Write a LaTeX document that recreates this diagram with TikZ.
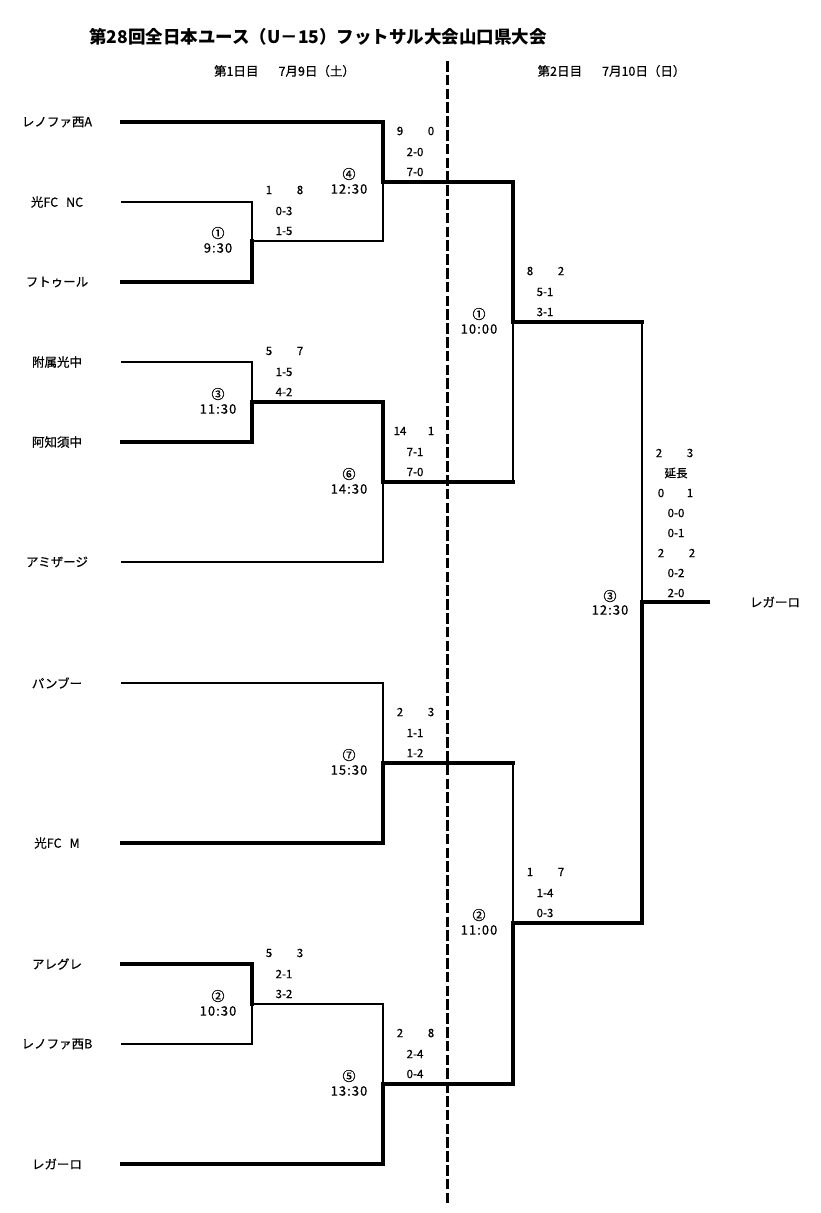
\documentclass[tikz,border=0pt]{standalone}
\usepackage{fontspec}
\setmainfont{Noto Sans CJK JP}[FakeBold=0.5]
\newfontfamily\timefont{Noto Sans CJK JP}[LetterSpace=8,FakeBold=0.4]
\newfontfamily\titlefont{Noto Sans CJK JP}
\begin{document}
\begin{tikzpicture}[x=1pt,y=-1pt,
  every node/.style={inner sep=0pt,outer sep=0pt},
  team/.style={font=\fontsize{12.5}{12.5}\selectfont},
  num/.style={font=\fontsize{11.5}{11.5}\selectfont},
  circ/.style={font=\fontsize{13}{13}\selectfont},
  tim/.style={font=\timefont\fontsize{13}{13}\selectfont},
  ttl/.style={font=\titlefont\bfseries\fontsize{17.5}{17.5}\selectfont},
  dayhd/.style={font=\fontsize{12.5}{12.5}\selectfont},
  thinln/.style={line width=1.5pt,line join=miter,line cap=rect},
  medln/.style={line width=2.6pt,line join=miter,line cap=rect},
  thickln/.style={line width=4.2pt,line join=miter,line cap=rect},
  dayline/.style={line width=3pt,dash pattern=on 10.5pt off 3.3pt}]
\useasboundingbox (0,0) rectangle (820,1213);
\fill[white] (0,0) rectangle (820,1213);

\newcommand\mres[9]{%
  \node[num] (#1a) at ({#2+17},{#3-51}) {#4};
  \node[num] (#1b) at ({#2+48},{#3-51}) {#5};
  \node[num] (#1c) at ({#2+32},{#3-30}) {#6};
  \node[num] (#1d) at ({#2+32},{#3-10}) {#7};
  \node[circ] (#1e) at ({#2-34},{#3-8}) {#8};
  \node[tim] (#1f) at ({#2-34},{#3+7}) {#9};}

% title and headers
\node[ttl] (title) at (318,37) {第28回全日本ユース（U－15）フットサル大会山口県大会};
\node[dayhd] (day1) at (284.5,71) {第1日目\hspace{20pt}7月9日（土）};
\node[dayhd] (day2) at (611.5,71) {第2日目\hspace{20pt}7月10日（日）};

% teams
\node[team] (t1) at (57,122) {レノファ西A};
\node[team] (t2) at (57,202) {光FC\hspace{8pt}NC};
\node[team] (t3) at (57,282) {フトゥール};
\node[team] (t4) at (57,362) {附属光中};
\node[team] (t5) at (57,442) {阿知須中};
\node[team] (t6) at (57,562) {アミザージ};
\node[team] (t7) at (57,683) {パンブー};
\node[team] (t8) at (57,843) {光FC\hspace{8pt}M};
\node[team] (t9) at (57,964) {アレグレ};
\node[team] (t10) at (57,1044) {レノファ西B};
\node[team] (t11) at (57,1164) {レガーロ};
\node[team] (win) at (775,602) {レガーロ};

% line starts
\foreach \n/\y in {1/122,2/202,3/282,4/362,5/442,6/562,7/683,8/843,9/964,10/1044,11/1164}
  \coordinate (s\n) at (122,\y);

% junctions
\coordinate (a1) at (252,202); \coordinate (b1) at (252,282); \coordinate (o1) at (252,241);
\coordinate (a3) at (252,362); \coordinate (b3) at (252,442); \coordinate (o3) at (252,402);
\coordinate (a2) at (252,964); \coordinate (b2) at (252,1044); \coordinate (o2) at (252,1004);
\coordinate (a4) at (383,122); \coordinate (b4) at (383,241); \coordinate (o4) at (383,182);
\coordinate (a6) at (383,402); \coordinate (b6) at (383,562); \coordinate (o6) at (383,482);
\coordinate (a7) at (383,683); \coordinate (b7) at (383,843); \coordinate (o7) at (383,763);
\coordinate (a5) at (383,1004); \coordinate (b5) at (383,1164); \coordinate (o5) at (383,1084);
\coordinate (ad1) at (513,182); \coordinate (bd1) at (513,482); \coordinate (od1) at (513,322);
\coordinate (ad2) at (513,763); \coordinate (bd2) at (513,1084); \coordinate (od2) at (513,923);
\coordinate (af) at (642,322); \coordinate (bf) at (642,923); \coordinate (of) at (642,602);
\coordinate (wf) at (708,602);
\coordinate (dtop) at (447,61); \coordinate (dbot) at (447,1206);

% thin lines
\draw[thinln] (s2) -- (a1) -- (o1);
\draw[thinln] (b4) -- (o4);
\draw[thinln] (s4) -- (a3) -- (o3);
\draw[thinln] (s6) -- (b6) -- (o6);
\draw[thinln] (od1) -- (bd1);
\draw[thinln] (af) -- (of);
\draw[thinln] (s7) -- (a7) -- (o7);
\draw[thinln] (ad2) -- (od2);
\draw[thinln] (s10) -- (b2) -- (o2);
\draw[thinln] (a5) -- (o5);
% medium lines
\draw[medln] (o1) -- (b4);
\draw[medln] (o2) -- (a5);
% thick lines
\draw[thickln] (s1) -- (a4) -- (o4) -- (ad1) -- (od1) -- (af);
\draw[thickln] (s3) -- (b1) -- (o1);
\draw[thickln] (s5) -- (b3) -- (o3) -- (a6) -- (o6) -- (bd1);
\draw[thickln] (s8) -- (b7) -- (o7) -- (ad2);
\draw[thickln] (s9) -- (a2) -- (o2);
\draw[thickln] (s11) -- (b5) -- (o5) -- (bd2) -- (od2) -- (bf) -- (of) -- (wf);

% day divider
\draw[dayline] (dtop) -- (dbot);

% results
\mres{m1}{252}{241}{1}{8}{0-3}{1-5}{①}{9:30}
\mres{m4}{383}{182}{9}{0}{2-0}{7-0}{④}{12:30}
\mres{m3}{252}{402}{5}{7}{1-5}{4-2}{③}{11:30}
\mres{m6}{383}{482}{14}{1}{7-1}{7-0}{⑥}{14:30}
\mres{m7}{383}{763}{2}{3}{1-1}{1-2}{⑦}{15:30}
\mres{m2}{252}{1004}{5}{3}{2-1}{3-2}{②}{10:30}
\mres{m5}{383}{1084}{2}{8}{2-4}{0-4}{⑤}{13:30}
\mres{d1}{513}{322}{8}{2}{5-1}{3-1}{①}{10:00}
\mres{d2}{513}{923}{1}{7}{1-4}{0-3}{②}{11:00}

% final
\node[num] (fa) at (659,453) {2};
\node[num] (fb) at (690,453) {3};
\node[num] (fc) at (676,473) {延長};
\node[num] (fd) at (661,493) {0};
\node[num] (fe) at (690,493) {1};
\node[num] (ff) at (676,513) {0-0};
\node[num] (fg) at (676,533) {0-1};
\node[num] (fh) at (661,553) {2};
\node[num] (fi) at (692,553) {2};
\node[num] (fj) at (676,573) {0-2};
\node[num] (fk) at (676,593) {2-0};
\node[circ] (fl) at (610,596) {③};
\node[tim] (fm) at (610,610) {12:30};
\end{tikzpicture}
\end{document}
